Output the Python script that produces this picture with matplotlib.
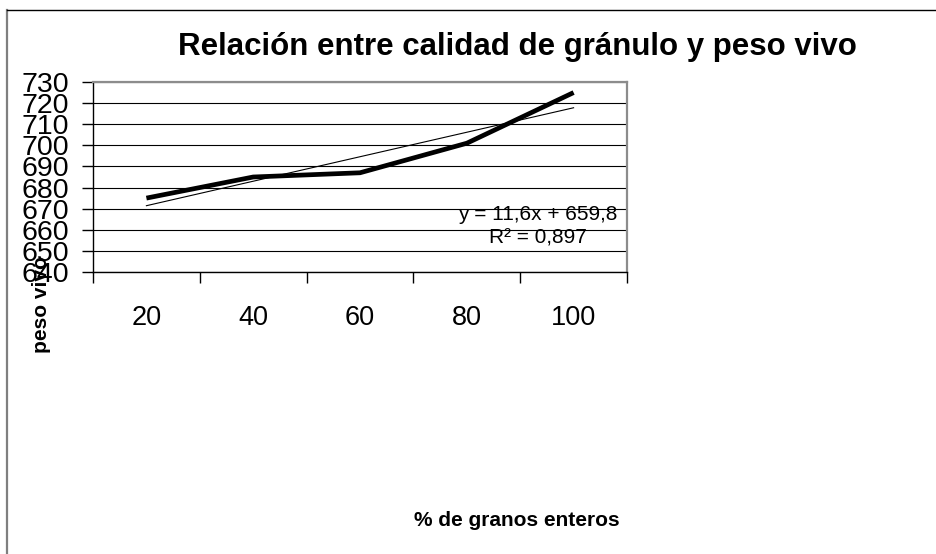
import matplotlib.pyplot as plt
import numpy as np
from matplotlib.lines import Line2D

plt.rcParams['font.family'] = ['Liberation Sans', 'DejaVu Sans']

# datos
granos_enteros = [20, 40, 60, 80, 100]
peso_vivo = [675, 685, 687, 701, 725]
# linea de tendencia (Excel, sobre el indice de categoria)
tend_pendiente = 11.6
tend_intercepto = 659.8
tend_r2 = 0.897
y_ticks = list(range(640, 731, 10))

W, H = 937, 554
fig = plt.figure(figsize=(W / 100, H / 100), dpi=100)

# marco del area del grafico
fig.add_artist(Line2D([7 / W, 7 / W], [0, 1 - 10 / H], color='#7f7f7f', lw=1.6))
fig.add_artist(Line2D([7 / W, 1], [1 - 10 / H, 1 - 10 / H], color='black', lw=1.0))

ax = fig.add_axes([93 / W, 1 - 272 / H, 534 / W, 190 / H])

x = np.arange(1, len(granos_enteros) + 1)
ax.plot(x, peso_vivo, color='black', lw=3.4, solid_capstyle='butt', zorder=3)

x_t = np.array([x[0], x[-1]])
ax.plot(x_t, tend_pendiente * x_t + tend_intercepto, color='black', lw=0.8, zorder=3)

etiqueta = (f'y = {tend_pendiente:.1f}x + {tend_intercepto:.1f}\n'
            f'R² = {tend_r2:.3f}').replace('.', ',')
ax.text(0.833, 0.24, etiqueta, transform=ax.transAxes, ha='center', va='center',
        fontsize=15, linespacing=1.3, zorder=4)

ax.set_xlim(0.5, len(x) + 0.5)
ax.set_ylim(640, 730)
ax.set_yticks(y_ticks)
ax.set_yticklabels([str(v) for v in y_ticks])
ax.set_xticks(x)
ax.set_xticklabels([str(v) for v in granos_enteros])
ax.set_xticks(np.arange(0.5, len(x) + 1), minor=True)

ax.yaxis.grid(True, color='black', lw=0.8)
ax.set_axisbelow(True)

ax.tick_params(axis='y', direction='out', length=8, width=1, pad=9, labelsize=20.5)
ax.tick_params(axis='x', which='major', length=0, pad=24, labelsize=19.5)
ax.tick_params(axis='x', which='minor', direction='out', length=8, width=1)

for s in ['left', 'bottom']:
    ax.spines[s].set_color('black')
    ax.spines[s].set_linewidth(1.0)
for s in ['top', 'right']:
    ax.spines[s].set_color('#8c8c8c')
    ax.spines[s].set_linewidth(1.6)

fig.text(517 / W, 1 - 47 / H, 'Relación entre calidad de gránulo y peso vivo',
         ha='center', va='center', fontsize=22.5, fontweight='bold')
fig.text(517 / W, 1 - 521 / H, '% de granos enteros',
         ha='center', va='center', fontsize=15, fontweight='bold')
fig.text(42 / W, 1 - 353 / H, 'peso vivo', rotation=90,
         ha='center', va='bottom', fontsize=15, fontweight='bold')

fig.savefig('out.png', dpi=100)
